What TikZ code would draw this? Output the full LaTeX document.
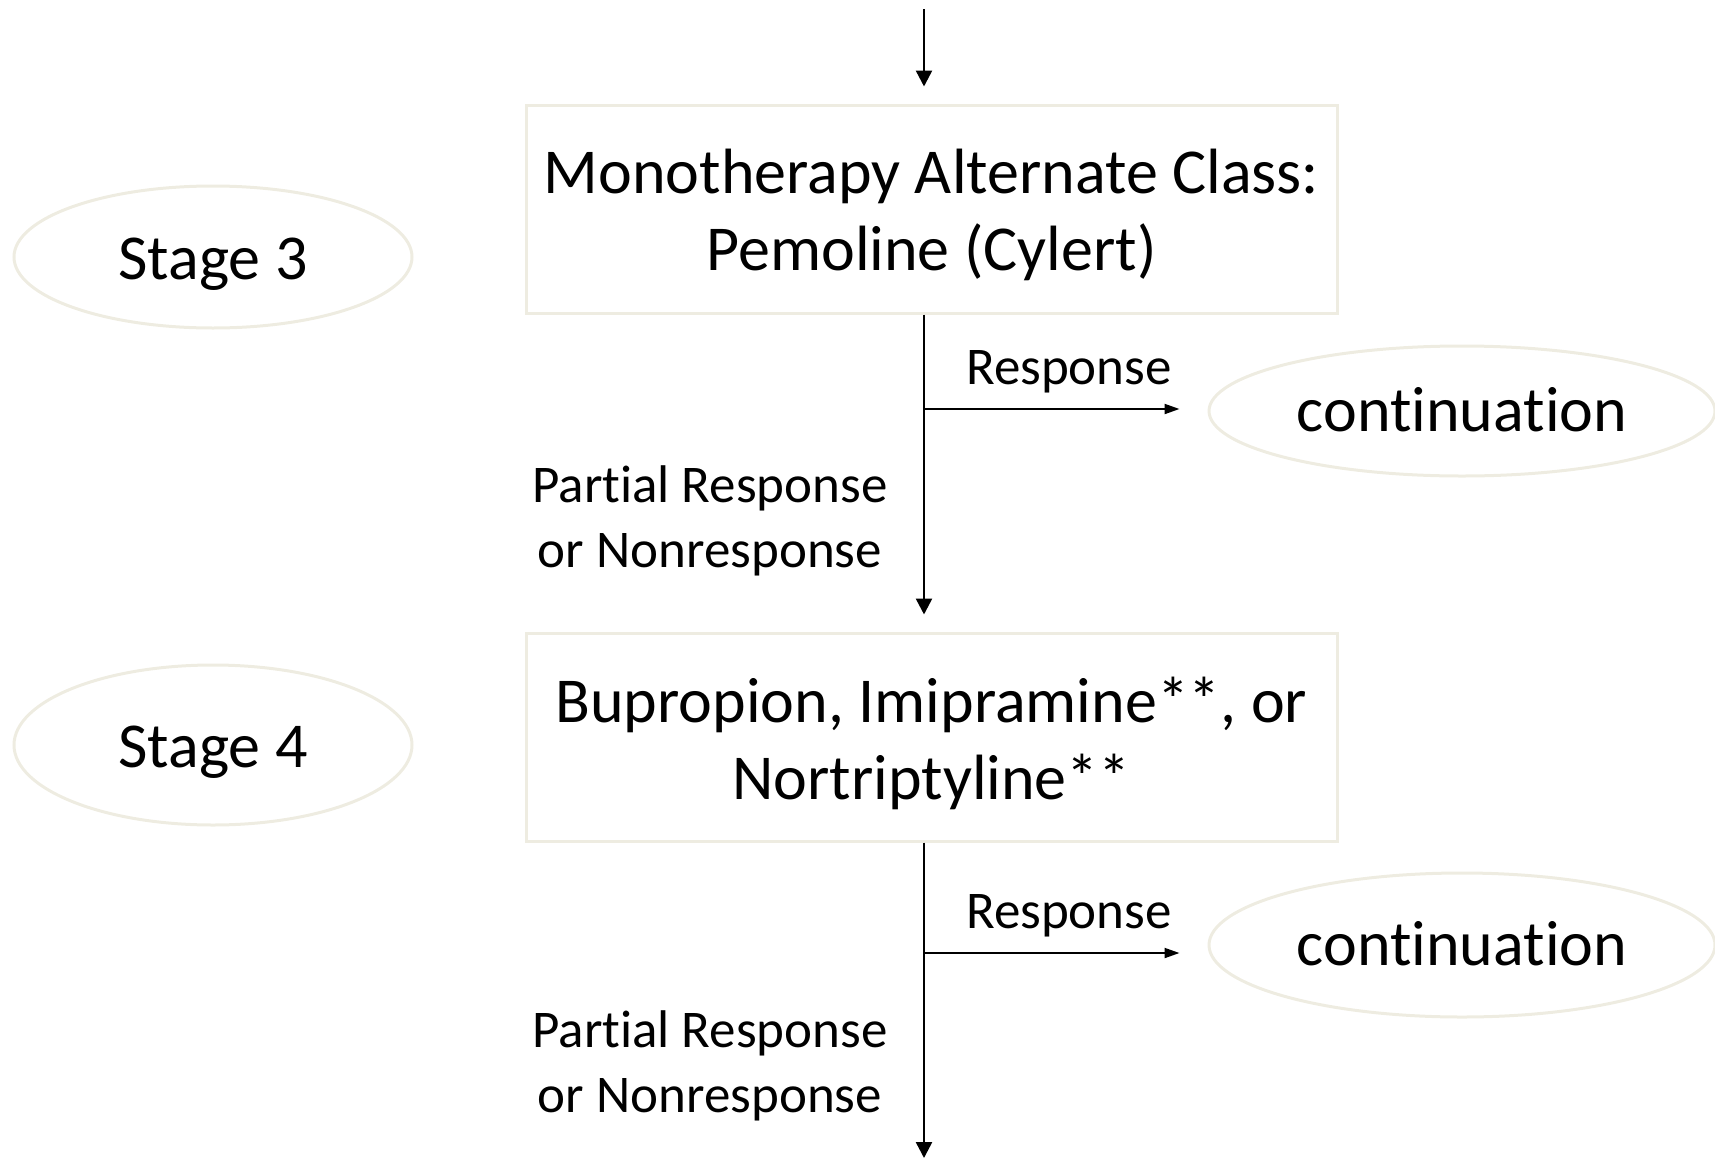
\documentclass[tikz,border=0pt]{standalone}
\usepackage{fontspec}
\setmainfont{Carlito}[Ligatures=NoCommon]
\usetikzlibrary{shapes.geometric,arrows.meta}
\definecolor{boxline}{HTML}{EEECE1}
\begin{document}
\begin{tikzpicture}[x=1pt,y=-1pt,
  big/.style={font=\fontsize{64}{77}\selectfont, align=center, text=black},
  small/.style={font=\fontsize{53}{65}\selectfont, align=center, text=black},
  stepbox/.style={draw=boxline, line width=3pt, minimum width=811pt, minimum height=208pt, inner sep=0pt},
  oval/.style={ellipse, draw=boxline, line width=3pt, inner sep=0pt, big, text depth=0pt},
  flow/.style={line width=2.5pt, -{Triangle[length=16pt,width=16pt]}},
  branch/.style={line width=2pt, -{Triangle[length=15pt,width=10pt]}}]
\useasboundingbox (0,0) rectangle (1715,1159);
\node[stepbox] (b1) at (931.5,209) {};
\node[big] (b1t) at (931.5,215) {Monotherapy Alternate Class:\\Pemoline (Cylert)};
\node[stepbox] (b2) at (931.5,737) {};
\node[big] (b2t) at (931.5,743) {Bupropion, Imipramine**, or\\Nortriptyline**};
\node[oval, text height=45pt, minimum width=398pt, minimum height=142pt] (s3) at (213,257) {Stage 3};
\node[oval, text height=45pt, minimum width=398pt, minimum height=160pt] (s4) at (213,745) {Stage 4};
\node[oval, text height=41pt, minimum width=506pt, minimum height=130pt] (c1) at (1462,411) {continuation};
\node[oval, text height=41pt, minimum width=506pt, minimum height=144pt] (c2) at (1462,945) {continuation};
\node[small] (r1) at (1069,371.5) {Response};
\node[small] (r2) at (1069,915.5) {Response};
\node[small] (p1) at (710,521) {Partial Response\\or Nonresponse};
\node[small] (p2) at (710,1066) {Partial Response\\or Nonresponse};
\coordinate (top) at (924,9);
\coordinate (j1) at (924,409);
\coordinate (j2) at (924,953);
\coordinate (bot) at (924,1158);
\draw[flow, shorten >=17pt] (top) -- (top |- b1.north);
\draw[flow, shorten >=17pt] (top |- b1.south) -- (top |- b2.north);
\draw[flow] (top |- b2.south) -- (bot);
\draw[branch, shorten >=28pt] (j1) -- (j1 -| c1.west);
\draw[branch, shorten >=28pt] (j2) -- (j2 -| c2.west);
\end{tikzpicture}
\end{document}
